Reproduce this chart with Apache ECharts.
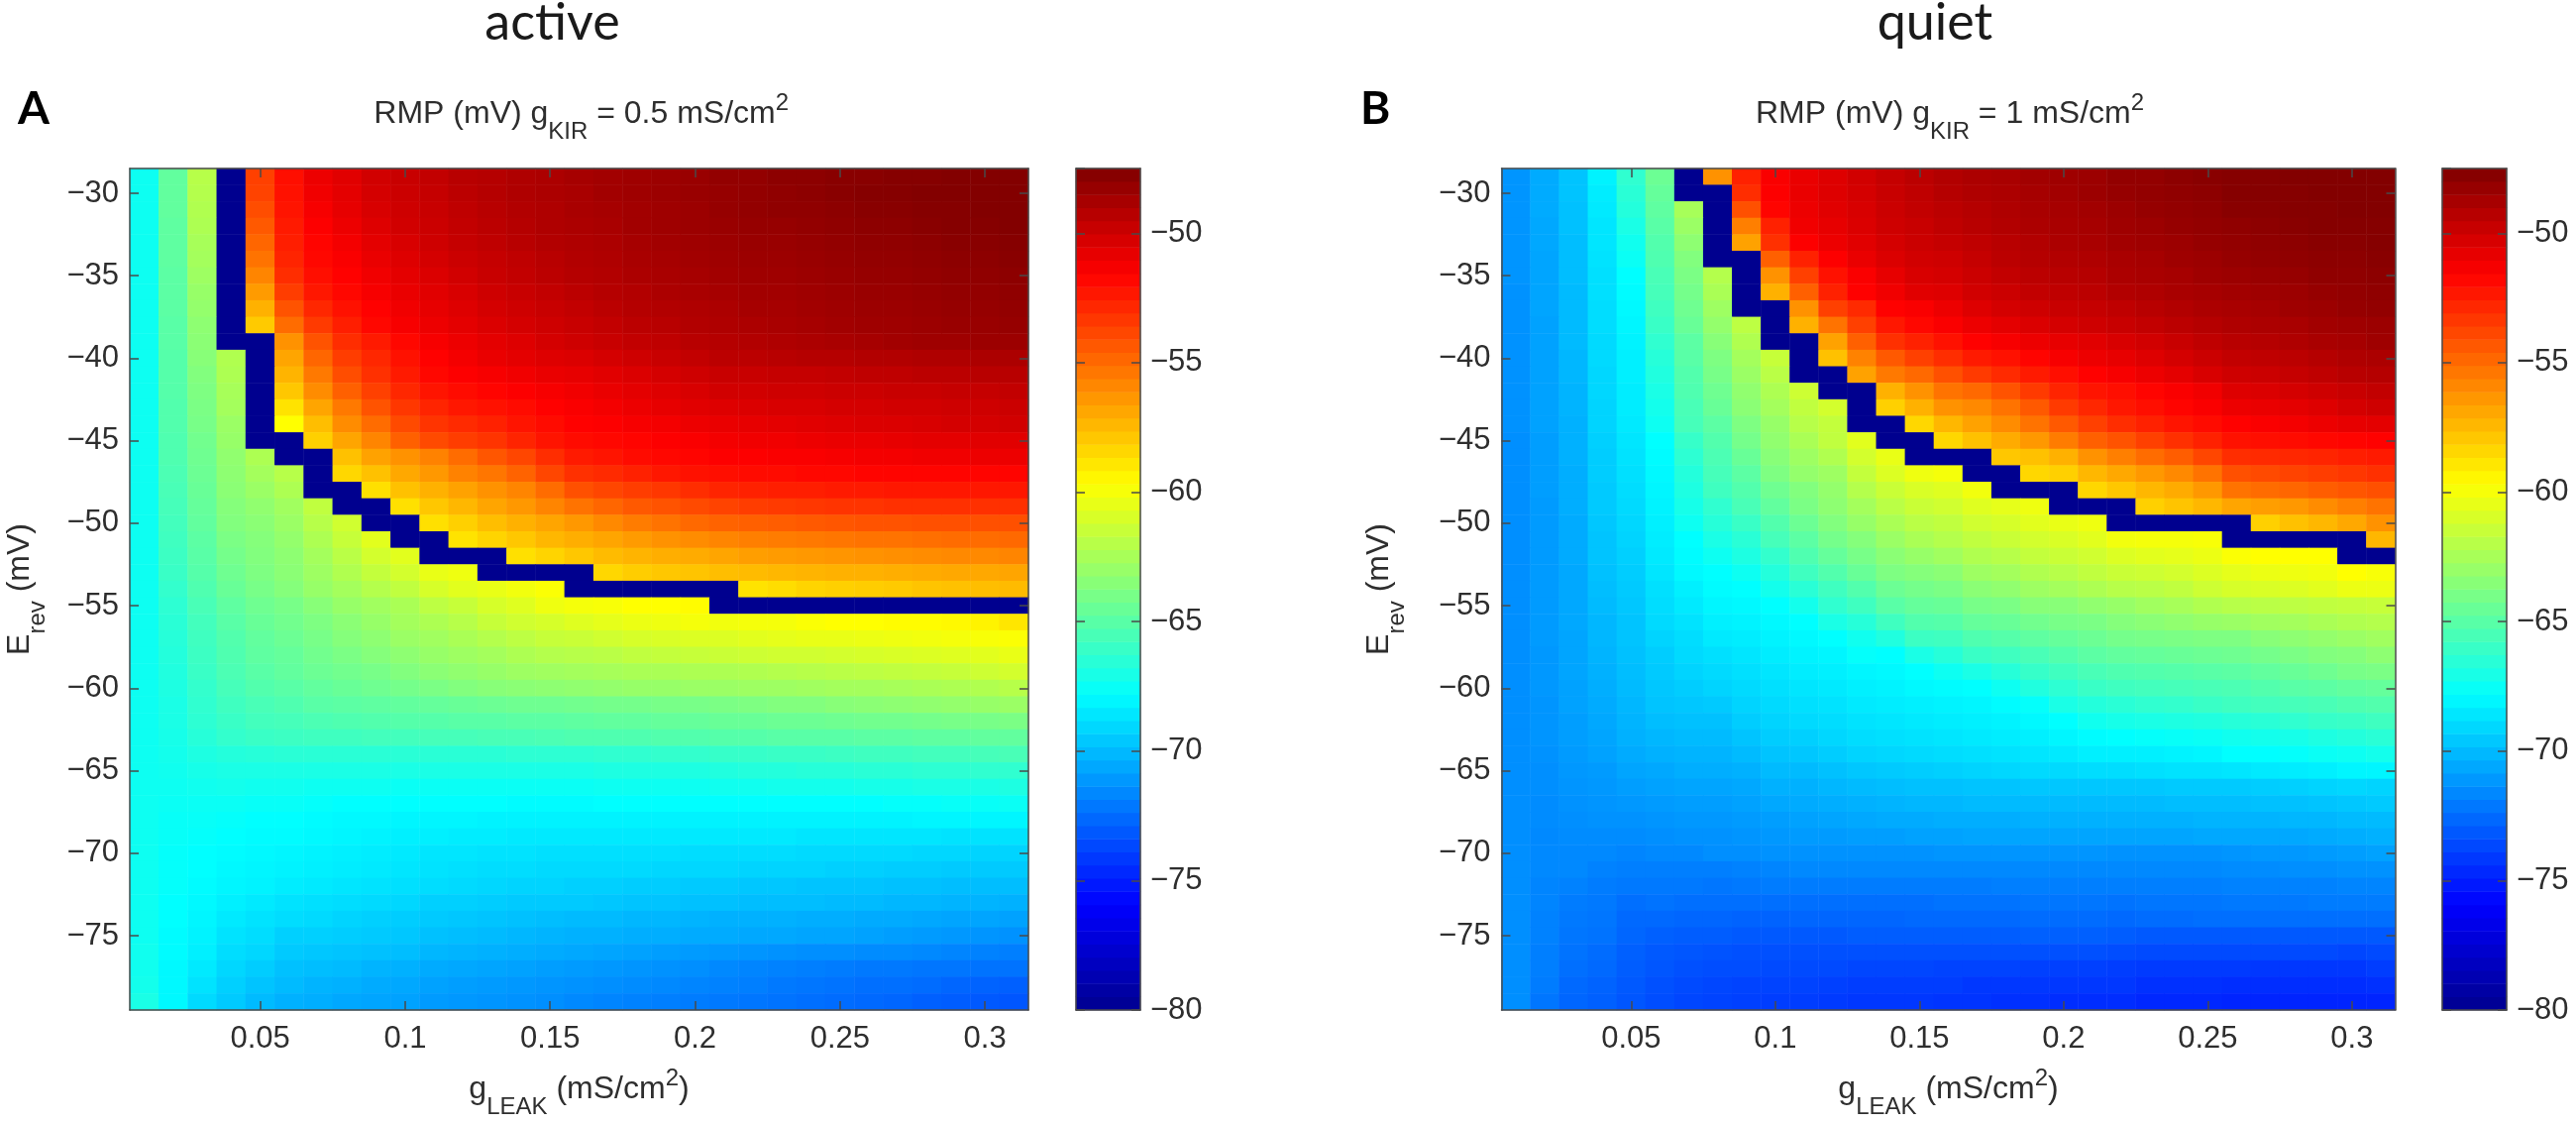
<!DOCTYPE html>
<html>
<head>
<meta charset="utf-8">
<style>html,body{margin:0;padding:0;background:#fff}#c{width:2600px;height:1135px}#c canvas{filter:blur(0.6px)}</style>
<script src="https://cdn.jsdelivr.net/npm/echarts@6/dist/echarts.min.js"></script>
</head>
<body>
<div id="c"></div>
<script>
const gLeak=['0.01','0.02','0.03','0.04','0.05','0.06','0.07','0.08','0.09','0.1','0.11','0.12','0.13','0.14','0.15','0.16','0.17','0.18','0.19','0.2','0.21','0.22','0.23','0.24','0.25','0.26','0.27','0.28','0.29','0.3','0.31'];
const eRev=[-79,-78,-77,-76,-75,-74,-73,-72,-71,-70,-69,-68,-67,-66,-65,-64,-63,-62,-61,-60,-59,-58,-57,-56,-55,-54,-53,-52,-51,-50,-49,-48,-47,-46,-45,-44,-43,-42,-41,-40,-39,-38,-37,-36,-35,-34,-33,-32,-31,-30,-29];
const gLeakTicks=['0.05','0.1','0.15','0.2','0.25','0.3'];
const eRevTicks=[-75,-70,-65,-60,-55,-50,-45,-40,-35,-30];
const colorbarLevels=[-79.75,-79.24,-78.73,-78.22,-77.71,-77.2,-76.7,-76.19,-75.68,-75.17,-74.66,-74.16,-73.65,-73.14,-72.63,-72.12,-71.62,-71.11,-70.6,-70.09,-69.58,-69.07,-68.57,-68.06,-67.55,-67.04,-66.53,-66.02,-65.52,-65.01,-64.5,-63.99,-63.48,-62.98,-62.47,-61.96,-61.45,-60.94,-60.43,-59.93,-59.42,-58.91,-58.4,-57.89,-57.39,-56.88,-56.37,-55.86,-55.35,-54.84,-54.34,-53.83,-53.32,-52.81,-52.3,-51.8,-51.29,-50.78,-50.27,-49.76,-49.25,-48.75,-48.24,-47.73];
const jetColors=['#00008f','#0000ff','#0080ff','#00ffff','#80ff80','#ffff00','#ff8000','#ff0000','#800000'];

// rows listed from Erev = -29 (top) down to Erev = -79 (bottom); one value per gLeak
const activeRmp=[
[-67.4,-64.7,-62,-80,-53.6,-52,-51,-50.6,-50.1,-49.8,-49.6,-49.3,-49.2,-49,-48.9,-48.7,-48.6,-48.5,-48.4,-48.3,-48.1,-48.1,-47.9,-47.9,-47.8,-47.8,-47.7,-47.7,-47.6,-47.6,-47.6],
[-67.4,-64.7,-62.1,-80,-53.7,-52.1,-51.1,-50.7,-50.2,-49.9,-49.7,-49.4,-49.2,-49,-48.9,-48.8,-48.6,-48.5,-48.4,-48.3,-48.2,-48.1,-48,-47.9,-47.8,-47.7,-47.7,-47.6,-47.6,-47.6,-47.6],
[-67.4,-64.7,-62.2,-80,-54,-52.2,-51.3,-50.8,-50.3,-50,-49.8,-49.5,-49.3,-49.1,-49,-48.8,-48.7,-48.6,-48.5,-48.4,-48.2,-48.1,-48,-48,-47.9,-47.8,-47.8,-47.7,-47.7,-47.6,-47.6],
[-67.4,-64.8,-62.3,-80,-54.4,-52.4,-51.5,-51,-50.5,-50.1,-49.9,-49.6,-49.4,-49.2,-49,-48.9,-48.8,-48.6,-48.5,-48.4,-48.3,-48.2,-48.2,-48.1,-48,-47.9,-47.9,-47.8,-47.7,-47.7,-47.6],
[-67.4,-64.8,-62.5,-80,-54.8,-52.5,-51.7,-51.2,-50.7,-50.3,-50,-49.7,-49.5,-49.3,-49.1,-49,-48.9,-48.7,-48.6,-48.5,-48.4,-48.3,-48.3,-48.2,-48.1,-48,-48,-47.9,-47.8,-47.8,-47.7],
[-67.4,-64.8,-62.6,-80,-55.2,-52.7,-51.8,-51.4,-50.9,-50.5,-50.2,-49.9,-49.7,-49.5,-49.3,-49.1,-49,-48.8,-48.7,-48.6,-48.5,-48.4,-48.4,-48.3,-48.2,-48.1,-48.1,-48,-47.9,-47.9,-47.8],
[-67.4,-64.9,-62.8,-80,-55.8,-53,-52,-51.6,-51.1,-50.7,-50.4,-50.1,-49.8,-49.6,-49.4,-49.2,-49.1,-48.9,-48.8,-48.7,-48.6,-48.5,-48.5,-48.4,-48.3,-48.2,-48.2,-48.1,-48,-48,-47.9],
[-67.4,-64.9,-63,-80,-56.5,-53.5,-52.3,-51.8,-51.3,-50.9,-50.6,-50.3,-50,-49.8,-49.6,-49.4,-49.2,-49.1,-48.9,-48.8,-48.7,-48.6,-48.6,-48.5,-48.4,-48.3,-48.3,-48.2,-48.1,-48.1,-48],
[-67.4,-64.9,-63.1,-80,-57.2,-54.2,-52.8,-52.1,-51.6,-51.1,-50.8,-50.5,-50.2,-50,-49.8,-49.6,-49.4,-49.2,-49.1,-49,-48.9,-48.7,-48.7,-48.6,-48.5,-48.4,-48.4,-48.3,-48.2,-48.2,-48.1],
[-67.4,-65,-63.3,-80,-58,-55,-53.4,-52.5,-51.8,-51.3,-51,-50.7,-50.4,-50.2,-50,-49.8,-49.6,-49.4,-49.3,-49.1,-49,-48.9,-48.8,-48.7,-48.6,-48.5,-48.5,-48.4,-48.3,-48.3,-48.2],
[-67.4,-65,-63.4,-80,-80,-56.2,-54.2,-53,-52.4,-51.8,-51.3,-51,-50.7,-50.5,-50.2,-50,-49.8,-49.6,-49.5,-49.3,-49.2,-49.1,-49,-48.9,-48.8,-48.7,-48.6,-48.5,-48.5,-48.4,-48.4],
[-67.4,-65.1,-63.5,-62.2,-80,-56.8,-54.8,-53.5,-52.8,-52.1,-51.6,-51.2,-50.9,-50.7,-50.5,-50.4,-50.2,-50,-49.8,-49.6,-49.4,-49.4,-49.3,-49.2,-49.2,-49.1,-49.1,-49,-49,-48.9,-48.9],
[-67.4,-65.1,-63.7,-62.3,-80,-57.3,-55.4,-54,-53.1,-52.4,-51.8,-51.5,-51.3,-51.1,-50.9,-50.8,-50.6,-50.4,-50.2,-50,-49.8,-49.8,-49.7,-49.7,-49.6,-49.5,-49.5,-49.4,-49.4,-49.3,-49.3],
[-67.4,-65.1,-63.8,-62.5,-80,-57.9,-56,-54.6,-53.6,-52.8,-52.2,-51.9,-51.7,-51.5,-51.3,-51.1,-50.9,-50.7,-50.5,-50.3,-50.1,-50.1,-50,-50,-49.9,-49.9,-49.8,-49.8,-49.7,-49.7,-49.6],
[-67.4,-65.2,-63.9,-62.6,-80,-58.8,-56.8,-55.4,-54.2,-53.3,-52.7,-52.3,-52.1,-51.9,-51.6,-51.4,-51.2,-51,-50.8,-50.6,-50.5,-50.4,-50.3,-50.3,-50.2,-50.2,-50.1,-50.1,-50,-50,-49.9],
[-67.4,-65.2,-64,-62.9,-80,-59.7,-57.6,-56,-55,-53.9,-53.2,-52.9,-52.6,-52.2,-51.9,-51.6,-51.5,-51.3,-51.2,-51,-50.9,-50.8,-50.7,-50.6,-50.5,-50.4,-50.4,-50.3,-50.2,-50.2,-50.1],
[-67.4,-65.3,-64.2,-63,-80,-80,-58.2,-56.8,-55.8,-54.6,-53.9,-53.5,-53.2,-52.7,-52.2,-51.9,-51.8,-51.7,-51.5,-51.4,-51.2,-51.1,-51.1,-51,-50.9,-50.9,-50.8,-50.7,-50.7,-50.6,-50.6],
[-67.4,-65.3,-64.3,-63.2,-62.3,-80,-80,-57.7,-56.7,-56.2,-55.7,-55,-54.3,-53.8,-53,-52.4,-52.2,-51.9,-51.8,-51.7,-51.5,-51.5,-51.4,-51.4,-51.3,-51.2,-51.2,-51.1,-51.1,-51,-51],
[-67.4,-65.4,-64.4,-63.3,-62.6,-62,-80,-58.4,-57.7,-56.9,-56.4,-55.7,-55.3,-54.7,-53.8,-53.1,-52.9,-52.6,-52.3,-52.1,-52,-51.9,-51.9,-51.8,-51.8,-51.7,-51.7,-51.7,-51.7,-51.7,-51.7],
[-67.4,-65.5,-64.5,-63.4,-62.9,-62.3,-80,-80,-58.7,-57.7,-57.2,-56.7,-56.2,-55.8,-55,-54.1,-53.8,-53.5,-53.3,-53,-52.7,-52.6,-52.5,-52.5,-52.4,-52.4,-52.3,-52.3,-52.3,-52.3,-52.3],
[-67.4,-65.6,-64.6,-63.6,-63.2,-62.7,-61.7,-80,-80,-58.7,-57.9,-57.4,-56.8,-56.4,-55.8,-55.2,-54.8,-54.4,-54.2,-53.9,-53.7,-53.5,-53.4,-53.3,-53.2,-53.2,-53.1,-53.1,-53.1,-53.1,-53.1],
[-67.4,-65.7,-64.7,-63.7,-63.4,-62.9,-62,-61.2,-80,-80,-58.7,-58.2,-57.6,-57.2,-56.8,-56.4,-55.9,-55.5,-55.2,-54.9,-54.7,-54.6,-54.5,-54.4,-54.3,-54.2,-54.2,-54.1,-54.1,-54.1,-54.1],
[-67.4,-65.8,-64.9,-63.9,-63.6,-63.1,-62.3,-61.5,-60.6,-80,-80,-58.8,-58.3,-57.9,-57.4,-57.1,-56.8,-56.5,-56.2,-56,-55.8,-55.6,-55.5,-55.4,-55.3,-55.2,-55.2,-55.1,-55,-55,-54.9],
[-67.4,-65.9,-65,-64.1,-63.7,-63.3,-62.6,-61.9,-61.1,-60.6,-80,-80,-80,-58.7,-58.3,-57.9,-57.5,-57.3,-57.1,-57,-56.8,-56.6,-56.5,-56.4,-56.3,-56.2,-56.1,-56,-55.9,-55.9,-55.8],
[-67.4,-66,-65.1,-64.3,-63.8,-63.4,-62.8,-62.2,-61.6,-61.1,-60.4,-60.2,-80,-80,-80,-80,-58.4,-58.1,-57.9,-57.8,-57.6,-57.5,-57.4,-57.3,-57.2,-57.2,-57.1,-57,-56.9,-56.9,-56.8],
[-67.4,-66.2,-65.3,-64.5,-64,-63.6,-63,-62.6,-62.1,-61.7,-61,-60.6,-60.4,-60.1,-59.8,-80,-80,-80,-80,-80,-80,-58.8,-58.6,-58.3,-58.2,-58.1,-58,-57.8,-57.7,-57.6,-57.5],
[-67.4,-66.4,-65.5,-64.8,-64.3,-64,-63.5,-63,-62.7,-62.4,-61.8,-61.5,-61,-60.7,-60.2,-60,-59.9,-59.7,-59.7,-59.6,-80,-80,-80,-80,-80,-80,-80,-80,-80,-80,-80],
[-67.4,-66.5,-65.7,-65,-64.5,-64.2,-63.8,-63.4,-63,-62.6,-62.3,-62,-61.5,-61.2,-61,-60.7,-60.5,-60.3,-60.2,-60,-60.1,-60,-60,-59.8,-59.7,-59.7,-59.6,-59.6,-59.5,-59.3,-58.9],
[-67.4,-66.6,-65.8,-65.2,-64.7,-64.4,-64,-63.6,-63.3,-62.9,-62.7,-62.4,-62.1,-61.8,-61.5,-61.4,-61.2,-61,-60.9,-60.8,-60.8,-60.6,-60.5,-60.4,-60.4,-60.3,-60.2,-60.1,-60,-59.9,-59.8],
[-67.4,-66.7,-65.9,-65.3,-64.8,-64.6,-64.2,-63.9,-63.6,-63.3,-63,-62.8,-62.6,-62.3,-62.1,-62,-61.9,-61.7,-61.6,-61.5,-61.4,-61.3,-61.2,-61.2,-61.1,-61,-60.9,-60.8,-60.7,-60.6,-60.4],
[-67.4,-66.8,-66,-65.4,-65,-64.7,-64.4,-64.2,-64,-63.7,-63.4,-63.2,-63,-62.8,-62.7,-62.6,-62.5,-62.4,-62.4,-62.3,-62.3,-62.2,-62.1,-62,-61.9,-61.8,-61.7,-61.6,-61.5,-61.3,-61.1],
[-67.4,-66.9,-66.2,-65.6,-65.2,-65,-64.7,-64.5,-64.3,-64.1,-63.9,-63.7,-63.5,-63.4,-63.3,-63.2,-63.1,-63,-63,-62.9,-62.9,-62.8,-62.8,-62.7,-62.6,-62.6,-62.5,-62.4,-62.3,-62.2,-62],
[-67.4,-67,-66.3,-65.8,-65.5,-65.3,-65,-64.9,-64.8,-64.7,-64.6,-64.5,-64.4,-64.3,-64.3,-64.2,-64.1,-64.1,-64,-64,-63.9,-63.8,-63.7,-63.7,-63.5,-63.4,-63.3,-63.2,-63.1,-63,-62.9],
[-67.4,-67,-66.4,-66,-65.7,-65.6,-65.4,-65.3,-65.2,-65.1,-65.1,-65,-65,-64.9,-64.9,-64.8,-64.7,-64.7,-64.6,-64.6,-64.5,-64.5,-64.4,-64.4,-64.3,-64.2,-64.2,-64.1,-64,-64,-63.9],
[-67.4,-67.1,-66.6,-66.2,-66,-65.9,-65.8,-65.8,-65.7,-65.7,-65.6,-65.6,-65.5,-65.5,-65.4,-65.3,-65.3,-65.3,-65.2,-65.2,-65.1,-65.1,-65,-65,-65,-64.9,-64.9,-64.8,-64.8,-64.7,-64.7],
[-67.4,-67.2,-66.9,-66.7,-66.6,-66.5,-66.5,-66.5,-66.5,-66.5,-66.5,-66.5,-66.5,-66.4,-66.4,-66.4,-66.3,-66.3,-66.2,-66.2,-66.1,-66.1,-66,-66,-65.9,-65.8,-65.8,-65.7,-65.7,-65.6,-65.5],
[-67.4,-67.3,-67.1,-67,-67,-67,-67,-67,-67,-67,-67,-67,-67,-67,-67,-67,-66.9,-66.9,-66.9,-66.9,-66.8,-66.7,-66.7,-66.6,-66.6,-66.5,-66.5,-66.4,-66.4,-66.3,-66.3],
[-67.4,-67.4,-67.3,-67.2,-67.3,-67.3,-67.4,-67.4,-67.4,-67.5,-67.5,-67.5,-67.5,-67.5,-67.5,-67.5,-67.4,-67.4,-67.4,-67.4,-67.3,-67.3,-67.2,-67.2,-67.2,-67.1,-67.1,-67,-67,-67,-66.9],
[-67.4,-67.5,-67.5,-67.5,-67.6,-67.6,-67.7,-67.8,-67.8,-67.8,-67.8,-67.8,-67.8,-67.9,-67.9,-67.9,-67.8,-67.8,-67.8,-67.8,-67.8,-67.8,-67.8,-67.8,-67.8,-67.8,-67.7,-67.7,-67.6,-67.6,-67.5],
[-67.4,-67.6,-67.6,-67.7,-67.8,-67.8,-67.9,-68,-68,-68.1,-68.1,-68.1,-68.2,-68.2,-68.2,-68.2,-68.2,-68.2,-68.2,-68.2,-68.2,-68.2,-68.2,-68.2,-68.2,-68.2,-68.2,-68.1,-68.1,-68.1,-68.1],
[-67.4,-67.6,-67.7,-67.8,-67.9,-67.9,-68,-68.1,-68.2,-68.3,-68.3,-68.4,-68.4,-68.5,-68.5,-68.5,-68.5,-68.5,-68.5,-68.5,-68.5,-68.5,-68.5,-68.6,-68.6,-68.6,-68.6,-68.6,-68.7,-68.7,-68.7],
[-67.4,-67.7,-67.8,-67.9,-68,-68.1,-68.2,-68.3,-68.4,-68.5,-68.6,-68.6,-68.7,-68.7,-68.8,-68.8,-68.8,-68.8,-68.8,-68.9,-68.9,-68.9,-68.9,-69,-69,-69,-69,-69.1,-69.1,-69.2,-69.2],
[-67.4,-67.7,-67.8,-68,-68.1,-68.2,-68.3,-68.4,-68.5,-68.6,-68.7,-68.8,-68.9,-68.9,-69,-69,-69,-69,-69.1,-69.1,-69.1,-69.2,-69.2,-69.2,-69.3,-69.3,-69.4,-69.4,-69.5,-69.5,-69.5],
[-67.4,-67.7,-67.9,-68.1,-68.2,-68.4,-68.5,-68.6,-68.7,-68.8,-68.9,-69,-69.1,-69.2,-69.2,-69.3,-69.3,-69.4,-69.4,-69.5,-69.5,-69.6,-69.6,-69.7,-69.7,-69.7,-69.8,-69.8,-69.9,-69.9,-69.9],
[-67.4,-67.8,-68,-68.3,-68.5,-68.7,-68.8,-68.9,-69,-69.1,-69.3,-69.3,-69.4,-69.5,-69.5,-69.5,-69.6,-69.7,-69.7,-69.8,-69.8,-69.9,-69.9,-69.9,-70,-70,-70.1,-70.1,-70.2,-70.2,-70.3],
[-67.4,-67.8,-68.1,-68.5,-68.7,-68.9,-69,-69.2,-69.3,-69.4,-69.5,-69.6,-69.7,-69.8,-69.9,-70,-70,-70.1,-70.1,-70.2,-70.3,-70.3,-70.3,-70.4,-70.4,-70.5,-70.5,-70.6,-70.7,-70.7,-70.8],
[-67.4,-67.9,-68.2,-68.7,-68.9,-69.3,-69.3,-69.4,-69.5,-69.6,-69.8,-69.9,-70,-70.1,-70.2,-70.3,-70.3,-70.4,-70.4,-70.5,-70.5,-70.6,-70.6,-70.7,-70.7,-70.8,-70.9,-71,-71.1,-71.2,-71.3],
[-67.3,-67.9,-68.3,-68.9,-69.1,-69.5,-69.6,-69.7,-69.8,-69.9,-70.1,-70.2,-70.3,-70.4,-70.5,-70.6,-70.7,-70.8,-70.9,-71,-71.1,-71.2,-71.3,-71.4,-71.4,-71.5,-71.5,-71.6,-71.7,-71.8,-71.9],
[-67.3,-68,-68.5,-69.1,-69.4,-69.8,-69.9,-70,-70.2,-70.3,-70.5,-70.6,-70.7,-70.8,-70.9,-71,-71.1,-71.2,-71.3,-71.4,-71.6,-71.7,-71.8,-71.9,-72,-72.1,-72.1,-72.2,-72.2,-72.3,-72.3],
[-67.2,-68,-68.7,-69.3,-69.7,-70,-70.2,-70.3,-70.5,-70.6,-70.8,-70.9,-71,-71.1,-71.2,-71.3,-71.4,-71.5,-71.6,-71.7,-71.8,-71.9,-72.1,-72.2,-72.3,-72.4,-72.4,-72.5,-72.7,-72.8,-72.9],
[-67,-68,-69,-69.5,-70,-70.3,-70.4,-70.6,-70.7,-70.8,-71,-71.1,-71.2,-71.3,-71.4,-71.6,-71.7,-71.8,-71.9,-72,-72.1,-72.2,-72.3,-72.4,-72.5,-72.6,-72.7,-72.9,-73,-73.1,-73.2]
];
const quietRmp=[
[-71.2,-70.5,-69.7,-68.2,-66.3,-64.4,-80,-56.2,-52.6,-51.4,-50.9,-50.5,-50.1,-49.7,-49.4,-49.1,-48.9,-48.8,-48.6,-48.5,-48.4,-48.1,-48.1,-47.9,-47.8,-47.7,-47.7,-47.6,-47.6,-47.6,-47.6],
[-71.2,-70.5,-69.7,-68.4,-66.5,-64.6,-80,-80,-53,-51.5,-50.9,-50.5,-50.2,-49.8,-49.5,-49.2,-49,-48.9,-48.7,-48.6,-48.4,-48.2,-48.1,-48,-47.9,-47.7,-47.7,-47.7,-47.6,-47.6,-47.6],
[-71.2,-70.5,-69.8,-68.5,-66.7,-64.8,-62.5,-80,-54.1,-51.7,-51,-50.6,-50.3,-49.9,-49.6,-49.4,-49.2,-49,-48.8,-48.7,-48.6,-48.4,-48.2,-48.1,-48,-47.8,-47.8,-47.7,-47.7,-47.6,-47.6],
[-71.2,-70.6,-69.8,-68.6,-67,-65,-62.9,-80,-55.6,-52.6,-51.1,-50.8,-50.4,-50,-49.8,-49.5,-49.3,-49.1,-48.9,-48.8,-48.7,-48.5,-48.4,-48.2,-48.1,-48,-47.9,-47.8,-47.7,-47.7,-47.7],
[-71.2,-70.6,-69.9,-68.6,-67.3,-65.2,-63.3,-80,-56.7,-53.1,-51.5,-51,-50.6,-50.2,-49.9,-49.7,-49.5,-49.3,-49.1,-48.9,-48.8,-48.6,-48.5,-48.4,-48.2,-48.1,-48,-47.9,-47.8,-47.8,-47.7],
[-71.2,-70.7,-69.9,-68.7,-67.5,-65.3,-63.7,-80,-80,-54.6,-52.6,-51.5,-50.9,-50.4,-50.1,-50,-49.7,-49.4,-49.2,-49.1,-49,-48.8,-48.7,-48.5,-48.4,-48.2,-48.1,-48,-47.9,-47.9,-47.8],
[-71.2,-70.7,-69.9,-68.8,-67.8,-65.5,-63.9,-62.1,-80,-56.2,-53.6,-52.1,-51.4,-50.8,-50.3,-50.2,-49.9,-49.6,-49.4,-49.3,-49.2,-48.9,-48.8,-48.7,-48.5,-48.4,-48.3,-48.2,-48,-48,-47.9],
[-71.3,-70.7,-70,-68.8,-67.9,-65.6,-64.1,-62.4,-80,-57.2,-54.6,-52.6,-51.6,-51.1,-50.6,-50.5,-50.1,-49.9,-49.6,-49.5,-49.4,-49.1,-49,-48.8,-48.7,-48.6,-48.5,-48.4,-48.2,-48.1,-48],
[-71.3,-70.7,-70,-68.9,-68,-65.8,-64.3,-62.8,-80,-80,-56.2,-53.6,-52.9,-51.6,-51.4,-51,-50.5,-50.2,-50,-49.8,-49.7,-49.5,-49.3,-49.1,-48.9,-48.8,-48.7,-48.5,-48.4,-48.2,-48.1],
[-71.3,-70.8,-70,-68.9,-68.1,-66,-64.5,-63.1,-61.8,-80,-57.2,-55.2,-53.6,-52.3,-51.8,-51.4,-51,-50.7,-50.4,-50.2,-50,-49.8,-49.6,-49.4,-49.2,-49,-48.9,-48.8,-48.6,-48.5,-48.4],
[-71.3,-70.8,-70,-69,-68.2,-66.3,-64.9,-63.5,-62.2,-80,-80,-56.7,-54.6,-53.1,-52.6,-52.1,-51.6,-51.3,-51,-50.8,-50.6,-50.3,-50.1,-49.8,-49.5,-49.3,-49.2,-49,-48.8,-48.7,-48.5],
[-71.3,-70.8,-70.1,-69,-68.3,-66.6,-65,-63.8,-62.6,-61.5,-80,-57.7,-55.7,-54.4,-53.6,-53,-52.4,-52.1,-51.7,-51.3,-51,-50.8,-50.5,-50.2,-49.9,-49.6,-49.5,-49.4,-49.2,-49,-48.9],
[-71.3,-70.8,-70.1,-69.1,-68.3,-66.8,-65.2,-64,-62.9,-61.9,-80,-80,-56.7,-55.4,-54.9,-54.1,-53.4,-52.9,-52.4,-52,-51.6,-51.3,-51,-50.7,-50.3,-50,-49.9,-49.7,-49.5,-49.3,-49.2],
[-71.3,-70.8,-70.2,-69.1,-68.4,-67,-65.3,-64.3,-63.2,-62.3,-61.3,-80,-80,-57.2,-56.2,-55.2,-54.9,-54.2,-53.4,-52.7,-52.2,-52,-51.7,-51.4,-51.1,-50.5,-50.4,-50.2,-50,-49.8,-49.6],
[-71.3,-70.8,-70.2,-69.2,-68.4,-67.2,-65.5,-64.5,-63.4,-62.6,-61.7,-61.1,-80,-58.2,-57.2,-56.2,-55.9,-55.2,-54.4,-53.4,-52.8,-52.3,-52,-51.7,-51.4,-51,-50.9,-50.7,-50.5,-50.2,-50],
[-71.3,-70.8,-70.3,-69.2,-68.5,-67.4,-65.6,-64.9,-63.8,-63,-62,-61.6,-80,-80,-58.4,-57.4,-56.7,-56,-55.2,-54.4,-53.6,-53,-52.6,-52.2,-51.9,-51.6,-51.4,-51.2,-51,-50.8,-50.7],
[-71.4,-70.9,-70.3,-69.3,-68.6,-67.8,-66.1,-65.2,-64.1,-63.2,-62.4,-61.7,-60.6,-80,-80,-58.4,-57.7,-57,-56.4,-55.5,-54.6,-54.2,-53.6,-53.1,-52.6,-52.1,-52,-51.9,-51.8,-51.7,-51.6],
[-71.4,-70.9,-70.3,-69.4,-68.7,-67.9,-66.4,-65.4,-64.5,-63.5,-62.8,-62.2,-61.1,-60.4,-80,-80,-80,-57.9,-57.7,-57.2,-56.2,-55.6,-55,-54.5,-53.8,-53,-52.9,-52.8,-52.7,-52.5,-52.4],
[-71.4,-70.9,-70.4,-69.4,-68.8,-68,-66.7,-65.6,-64.9,-63.8,-63.1,-62.8,-61.6,-60.8,-60.2,-60,-80,-80,-58.4,-58.2,-57.4,-56.9,-56.4,-55.9,-55.2,-54.1,-53.9,-53.7,-53.5,-53.3,-53.1],
[-71.4,-70.9,-70.4,-69.5,-68.9,-68.1,-66.9,-65.8,-65.2,-64.3,-63.7,-63.1,-62.1,-61.4,-60.9,-60.7,-60.1,-80,-80,-80,-58.4,-57.9,-57.4,-57,-56.4,-55.2,-55,-54.8,-54.5,-54.3,-54.1],
[-71.4,-71,-70.4,-69.5,-69,-68.2,-67.1,-66.3,-65.5,-64.7,-63.9,-63.3,-62.6,-61.9,-61.4,-61.2,-60.7,-60.5,-60.2,-80,-80,-80,-58.2,-57.8,-57.4,-56.8,-56.6,-56.4,-56,-55.6,-55.2],
[-71.4,-71,-70.5,-69.6,-69.1,-68.3,-67.4,-66.6,-66,-65.2,-64.4,-63.7,-63,-62.4,-61.9,-61.7,-61.2,-61,-60.6,-60.4,-60.2,-80,-80,-80,-80,-80,-58.2,-57.7,-57.4,-56.9,-56.2],
[-71.4,-71,-70.5,-69.7,-69.2,-68.4,-67.8,-67,-66.5,-65.6,-64.9,-64.1,-63.6,-62.9,-62.4,-62.1,-61.7,-61.4,-61.1,-60.9,-60.6,-60.1,-60,-60,-59.9,-80,-80,-80,-80,-80,-57.4],
[-71.4,-71,-70.5,-69.7,-69.3,-68.5,-67.9,-67.4,-66.9,-66.2,-65.3,-64.6,-64,-63.4,-63,-62.7,-62.2,-62,-61.6,-61.4,-61.2,-60.8,-60.6,-60.5,-60.3,-59.8,-59.7,-59.7,-59.7,-80,-80],
[-71.4,-71,-70.6,-69.8,-69.4,-68.6,-68,-67.8,-67.4,-66.7,-65.8,-65.2,-64.5,-63.8,-63.6,-63.4,-62.8,-62.6,-62.2,-62,-61.7,-61.4,-61.3,-61.1,-60.8,-60.5,-60.3,-60.2,-60.1,-59.7,-59.9],
[-71.4,-71,-70.6,-69.9,-69.5,-68.8,-68.3,-67.9,-67.8,-67.2,-66.5,-65.8,-65.2,-64.4,-64.1,-63.9,-63.4,-63.2,-62.8,-62.6,-62.3,-62,-61.9,-61.7,-61.3,-61,-60.9,-60.8,-60.6,-60.3,-60.3],
[-71.4,-71,-70.6,-70,-69.6,-68.9,-68.5,-68.1,-68,-67.8,-67.2,-66.3,-65.8,-65,-64.6,-64.5,-64,-63.9,-63.5,-63.5,-63.2,-63,-62.7,-62.5,-62.2,-62,-61.9,-61.8,-61.7,-61.6,-61.5],
[-71.4,-71,-70.6,-70.1,-69.7,-69,-68.7,-68.3,-68.2,-68,-67.8,-67,-66.6,-65.8,-65.2,-65.1,-64.6,-64.5,-64.2,-64,-63.9,-63.6,-63.4,-63.2,-63,-62.9,-62.7,-62.6,-62.4,-62.2,-62.1],
[-71.4,-71,-70.7,-70.1,-69.7,-69.2,-68.9,-68.5,-68.4,-68.2,-68,-67.8,-67.3,-66.8,-65.9,-65.8,-65.3,-65.1,-64.8,-64.6,-64.4,-64.1,-64,-63.9,-63.8,-63.8,-63.5,-63.3,-63.1,-62.9,-62.7],
[-71.4,-71.1,-70.7,-70.2,-69.8,-69.4,-69,-68.8,-68.6,-68.4,-68.2,-68.1,-67.7,-67.8,-67,-66.6,-66,-65.8,-65.5,-65.2,-64.9,-64.7,-64.6,-64.5,-64.4,-64.3,-64.1,-63.9,-63.7,-63.6,-63.3],
[-71.4,-71.1,-70.7,-70.3,-69.9,-69.5,-69.2,-69,-68.8,-68.6,-68.4,-68.3,-68.1,-68,-67.8,-67.4,-67,-66.6,-66.1,-65.8,-65.5,-65.3,-65.2,-65.1,-65,-64.9,-64.7,-64.5,-64.3,-64,-63.9],
[-71.4,-71.1,-70.8,-70.4,-70,-69.6,-69.4,-69.2,-69,-68.8,-68.6,-68.5,-68.3,-68.2,-68,-67.9,-67.8,-67.4,-66.8,-66.4,-66,-65.8,-65.7,-65.6,-65.5,-65.4,-65.2,-65,-64.9,-64.7,-64.6],
[-71.4,-71.2,-70.8,-70.5,-70.1,-69.7,-69.6,-69.5,-69.2,-69,-68.8,-68.7,-68.5,-68.4,-68.3,-68.2,-68.1,-67.9,-67.7,-67,-66.7,-66.5,-66.3,-66.2,-66,-65.8,-65.7,-65.6,-65.5,-65.3,-65.2],
[-71.4,-71.2,-70.9,-70.6,-70.2,-69.9,-69.8,-69.8,-69.4,-69.2,-69,-68.9,-68.7,-68.6,-68.5,-68.4,-68.3,-68.2,-68,-67.8,-67.3,-67.1,-67,-66.9,-66.8,-66.6,-66.5,-66.3,-66.1,-66,-65.8],
[-71.4,-71.2,-70.9,-70.7,-70.3,-70.1,-70,-70,-69.7,-69.4,-69.3,-69.1,-68.9,-68.8,-68.7,-68.6,-68.5,-68.4,-68.3,-68.1,-67.9,-67.8,-67.7,-67.6,-67.5,-67.3,-67.2,-67.1,-66.9,-66.7,-66.5],
[-71.4,-71.3,-71,-70.8,-70.5,-70.3,-70.2,-70.2,-70,-69.7,-69.6,-69.4,-69.2,-69.1,-69,-68.9,-68.8,-68.7,-68.6,-68.5,-68.3,-68.3,-68.3,-68.2,-68.1,-67.8,-67.8,-67.7,-67.5,-67.4,-67.2],
[-71.4,-71.4,-71.1,-71,-70.7,-70.6,-70.4,-70.4,-70.3,-70,-70,-69.8,-69.6,-69.5,-69.4,-69.3,-69.2,-69.1,-69,-69,-68.9,-68.9,-68.8,-68.7,-68.7,-68.6,-68.5,-68.4,-68.3,-68.1,-68.1],
[-71.4,-71.4,-71.2,-71.1,-70.9,-70.8,-70.7,-70.7,-70.6,-70.3,-70.3,-70.1,-70,-69.9,-69.8,-69.8,-69.7,-69.7,-69.6,-69.6,-69.6,-69.6,-69.6,-69.5,-69.5,-69.5,-69.4,-69.3,-69.2,-69.1,-69.2],
[-71.4,-71.5,-71.3,-71.2,-71.1,-71,-70.9,-70.9,-70.8,-70.6,-70.5,-70.4,-70.3,-70.2,-70.1,-70.1,-70,-70,-70,-70,-70,-70,-70,-69.9,-69.9,-69.9,-69.8,-69.8,-69.7,-69.6,-69.5],
[-71.4,-71.5,-71.4,-71.3,-71.3,-71.2,-71.1,-71.1,-71,-70.9,-70.8,-70.7,-70.6,-70.5,-70.5,-70.4,-70.4,-70.4,-70.3,-70.3,-70.3,-70.3,-70.3,-70.3,-70.2,-70.2,-70.2,-70.1,-70.1,-70,-70],
[-71.4,-71.6,-71.5,-71.5,-71.5,-71.4,-71.3,-71.3,-71.2,-71.1,-71,-71,-70.9,-70.9,-70.8,-70.8,-70.7,-70.7,-70.7,-70.7,-70.7,-70.7,-70.7,-70.7,-70.6,-70.6,-70.6,-70.6,-70.5,-70.4,-70.3],
[-71.4,-71.6,-71.6,-71.6,-71.7,-71.6,-71.6,-71.4,-71.4,-71.3,-71.3,-71.3,-71.3,-71.3,-71.3,-71.2,-71.2,-71.2,-71.2,-71.2,-71.2,-71.3,-71.3,-71.3,-71.3,-71.2,-71.1,-71.1,-71,-70.9,-70.8],
[-71.4,-71.6,-71.6,-71.8,-71.9,-71.9,-71.9,-71.9,-71.8,-71.7,-71.6,-71.6,-71.6,-71.6,-71.6,-71.6,-71.6,-71.6,-71.6,-71.6,-71.6,-71.6,-71.6,-71.6,-71.6,-71.5,-71.5,-71.4,-71.4,-71.3,-71.3],
[-71.4,-71.7,-71.8,-72,-72.1,-72.1,-72.1,-72.2,-72.1,-72,-72,-72,-72,-72,-72,-72,-72,-71.9,-71.9,-71.9,-71.9,-71.9,-71.9,-71.9,-71.9,-71.8,-71.8,-71.8,-71.8,-71.7,-71.7],
[-71.4,-71.7,-72,-72.1,-72.4,-72.3,-72.4,-72.4,-72.4,-72.4,-72.4,-72.4,-72.4,-72.4,-72.4,-72.3,-72.3,-72.3,-72.2,-72.2,-72.2,-72.3,-72.2,-72.2,-72.2,-72.1,-72.1,-72.1,-72,-72,-72],
[-71.4,-71.8,-72.1,-72.2,-72.6,-72.6,-72.7,-72.7,-72.8,-72.8,-72.7,-72.7,-72.7,-72.7,-72.6,-72.6,-72.6,-72.6,-72.5,-72.5,-72.5,-72.6,-72.5,-72.5,-72.4,-72.4,-72.4,-72.4,-72.4,-72.4,-72.4],
[-71.4,-71.8,-72.2,-72.3,-72.7,-72.9,-73,-73,-73.1,-73.1,-73.1,-73.1,-73,-73,-73,-73,-73,-73,-72.9,-72.9,-72.9,-73,-73.1,-73.1,-73.1,-73.1,-73.1,-73.1,-73.1,-73.1,-73.1],
[-71.4,-71.9,-72.3,-72.5,-72.9,-73.1,-73.2,-73.3,-73.4,-73.4,-73.4,-73.4,-73.4,-73.4,-73.4,-73.4,-73.4,-73.4,-73.4,-73.4,-73.4,-73.5,-73.6,-73.6,-73.6,-73.6,-73.6,-73.6,-73.6,-73.7,-73.6],
[-71.4,-71.9,-72.4,-72.6,-73,-73.2,-73.4,-73.5,-73.5,-73.6,-73.6,-73.6,-73.7,-73.7,-73.7,-73.8,-73.8,-73.8,-73.9,-73.9,-73.9,-74,-74.1,-74.1,-74.1,-74.1,-74.2,-74.2,-74.2,-74.2,-74],
[-71.4,-72,-72.6,-72.8,-73.1,-73.4,-73.6,-73.7,-73.8,-73.8,-73.8,-73.9,-74,-74,-74,-74,-74.2,-74.2,-74.2,-74.2,-74.2,-74.2,-74.4,-74.4,-74.4,-74.5,-74.5,-74.5,-74.5,-74.5,-74.4],
[-71.4,-72.2,-72.7,-72.9,-73.2,-73.5,-73.7,-73.8,-73.9,-74,-74,-74.1,-74.2,-74.2,-74.2,-74.3,-74.3,-74.4,-74.4,-74.5,-74.5,-74.5,-74.7,-74.7,-74.7,-74.8,-74.8,-74.8,-74.8,-74.8,-74.8]
];

const FONT='"Liberation Sans",Arial,sans-serif';
const TXT='#2e2e2e', LINE='#4a4a4a';
const TICK=31;
const rich={sub:{fontSize:24,fontFamily:FONT,color:TXT,padding:[36,0,0,0]},sup:{fontSize:24,fontFamily:FONT,color:TXT,padding:[0,0,22,0]}};
const minus=v=>String(v).replace('-','\u2212');

const panels=[
 {label:'A',state:'active',stateX:557.5,data:activeRmp,left:131,width:907,barLeft:1086,titleText:'RMP (mV) g{sub|KIR} = 0.5 mS/cm{sup|2}',titleX:586.7,labelX:18,nameGapY:81},
 {label:'B',state:'quiet',stateX:1953,data:quietRmp,left:1515.5,width:902,barLeft:2465,titleText:'RMP (mV) g{sub|KIR} = 1 mS/cm{sup|2}',titleX:1968,labelX:1373,nameGapY:93}
];
const TOP=170,HEIGHT=849,BAR_W=65;

const grid=[],xAxis=[],yAxis=[],series=[],title=[];
function frame(i,pos,extra){return Object.assign({gridIndex:i,position:pos,z:5,axisLine:{show:true,onZero:false,lineStyle:{color:LINE,width:1.5}}},extra);}
panels.forEach((p,k)=>{
  const g=grid.length;
  grid.push({left:p.left,top:TOP,width:p.width,height:HEIGHT,containLabel:false,outerBoundsMode:'none'});
  const xi=i=>gLeakTicks.includes(gLeak[i]);
  const yi=i=>eRevTicks.includes(eRev[i]);
  const xBase={type:'category',data:gLeak,boundaryGap:true,axisTick:{show:true,inside:true,alignWithLabel:true,interval:xi,length:9,lineStyle:{color:LINE,width:1.5}},splitLine:{show:false}};
  const yBase={type:'category',data:eRev,boundaryGap:true,axisTick:{show:true,inside:true,alignWithLabel:true,interval:yi,length:9,lineStyle:{color:LINE,width:1.5}},splitLine:{show:false}};
  const xMain=xAxis.length, yMain=yAxis.length;
  xAxis.push(frame(g,'bottom',Object.assign({},xBase,{axisLabel:{interval:xi,margin:14,fontSize:TICK,fontFamily:FONT,color:TXT},
    name:'g{sub|LEAK} (mS/cm{sup|2})',nameLocation:'middle',nameGap:50,nameMoveOverlap:false,nameTextStyle:{fontSize:32,fontFamily:FONT,color:TXT,rich}})));
  xAxis.push(frame(g,'top',Object.assign({},xBase,{axisLabel:{show:false}})));
  yAxis.push(frame(g,'left',Object.assign({},yBase,{axisLabel:{interval:yi,margin:11,fontSize:TICK,fontFamily:FONT,color:TXT,formatter:minus},
    name:'E{sub|rev} (mV)',nameLocation:'middle',nameRotate:90,nameGap:p.nameGapY,nameMoveOverlap:false,nameTextStyle:{fontSize:32,fontFamily:FONT,color:TXT,rich}})));
  yAxis.push(frame(g,'right',Object.assign({},yBase,{axisLabel:{show:false}})));
  const cells=[];
  p.data.forEach((row,r)=>row.forEach((v,c)=>cells.push([c,eRev.length-1-r,v])));
  series.push({type:'heatmap',xAxisIndex:xMain,yAxisIndex:yMain,data:cells,progressive:0,animation:false,silent:true,emphasis:{disabled:true}});

  const b=grid.length;
  grid.push({left:p.barLeft,top:TOP,width:BAR_W,height:HEIGHT,containLabel:false,outerBoundsMode:'none'});
  const bx=xAxis.length, by=yAxis.length;
  const vTick={show:true,inside:true,length:9,lineStyle:{color:LINE,width:1.5}};
  xAxis.push(frame(b,'bottom',{type:'category',data:['rmp'],axisTick:{show:false},axisLabel:{show:false}}));
  xAxis.push(frame(b,'top',{type:'category',data:['rmp'],axisTick:{show:false},axisLabel:{show:false}}));
  yAxis.push({gridIndex:b,type:'category',data:colorbarLevels,show:false});
  yAxis.push(frame(b,'right',{type:'value',min:-80,max:-47.5,interval:5,axisTick:vTick,splitLine:{show:false},
    axisLabel:{show:true,margin:10,fontSize:TICK,fontFamily:FONT,color:TXT,showMaxLabel:false,formatter:minus}}));
  yAxis.push(frame(b,'left',{type:'value',min:-80,max:-47.5,interval:5,axisTick:vTick,splitLine:{show:false},axisLabel:{show:false}}));
  series.push({type:'heatmap',xAxisIndex:bx,yAxisIndex:by,data:colorbarLevels.map((v,i)=>[0,i,v]),progressive:0,animation:false,silent:true,emphasis:{disabled:true}});

  title.push({text:p.state,left:p.stateX,top:-3,textAlign:'center',padding:0,textStyle:{fontFamily:'Lato',fontWeight:'normal',fontSize:52,color:'#1a1a1a'}});
  title.push({text:p.label,left:p.labelX,top:87,padding:0,textStyle:{fontFamily:'Lato',fontWeight:'bold',fontSize:46,color:'#000'}});
  title.push({text:p.titleText,left:p.titleX,top:85,textAlign:'center',padding:0,textStyle:{fontFamily:FONT,fontWeight:'normal',fontSize:32,color:TXT,rich}});
});

const chart=echarts.init(document.getElementById('c'),null,{renderer:'canvas'});
chart.setOption({
  animation:false,backgroundColor:'#fff',
  title,grid,xAxis,yAxis,series,
  tooltip:{show:false},
  visualMap:{show:false,type:'continuous',dimension:2,min:-80,max:-47.5,inRange:{color:jetColors},seriesIndex:series.map((s,i)=>i)}
});
</script>
</body>
</html>
